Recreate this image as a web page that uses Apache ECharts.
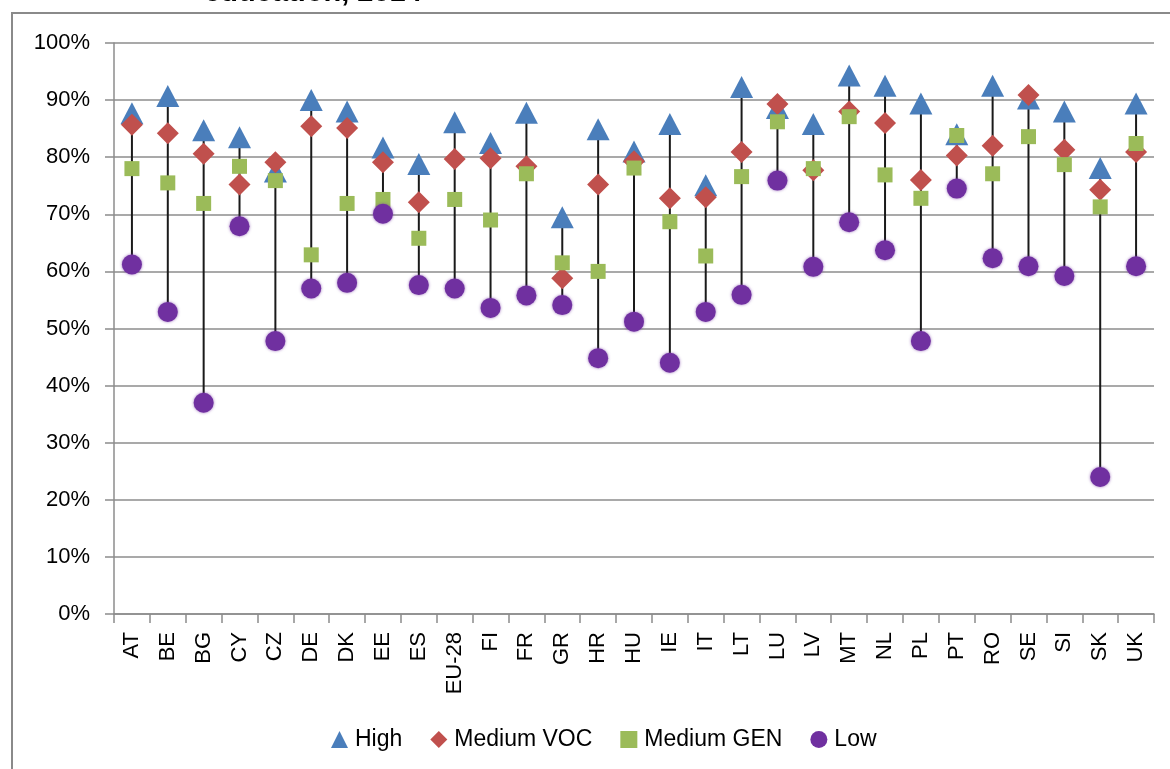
<!DOCTYPE html>
<html>
<head>
<meta charset="utf-8">
<script src="https://cdn.jsdelivr.net/npm/echarts@6/dist/echarts.min.js"></script>
<style>
  html, body { margin: 0; padding: 0; background: #ffffff; }
  #chart { width: 1170px; height: 769px; }
</style>
</head>
<body>
<div id="chart"></div>
<script>
// Employment rate by education level, per country (percent)
var countries = ['AT','BE','BG','CY','CZ','DE','DK','EE','ES','EU-28','FI','FR','GR','HR','HU','IE','IT','LT','LU','LV','MT','NL','PL','PT','RO','SE','SI','SK','UK'];
var high = [87.7,90.7,84.7,83.5,77.5,90.0,88.0,81.7,78.8,86.1,82.5,87.8,69.5,84.9,81.0,85.8,75.1,92.3,88.6,85.8,94.3,92.5,89.4,84.0,92.5,90.3,88.0,78.1,89.4];
var mediumVoc = [85.7,84.2,80.6,75.2,79.1,85.4,85.1,79.1,72.1,79.7,79.8,78.4,58.8,75.2,79.3,72.8,73.0,80.9,89.3,77.7,88.0,86.0,76.0,80.3,82.0,90.9,81.3,74.3,80.9];
var mediumGen = [78.0,75.5,71.9,78.4,75.9,62.9,71.9,72.6,65.8,72.6,69.0,77.1,61.5,60.0,78.1,68.7,62.7,76.6,86.2,78.0,87.1,76.9,72.8,83.8,77.1,83.6,78.7,71.3,82.4];
var low = [61.2,52.9,37.0,67.9,47.8,57.0,58.0,70.1,57.6,57.0,53.6,55.8,54.1,44.8,51.2,44.0,52.9,55.9,75.9,60.8,68.6,63.7,47.8,74.5,62.3,60.9,59.2,24.0,60.9];
var yTicks = { min: 0, max: 100, step: 10 };

// high-low span per country, from the four series
var spans = countries.map(function (c, i) {
  var vals = [high[i], mediumVoc[i], mediumGen[i], low[i]];
  return [i, Math.max.apply(null, vals), Math.min.apply(null, vals)];
});

var FONT = '"Liberation Sans", Arial, sans-serif';
var chart = echarts.init(document.getElementById('chart'), null, { renderer: 'canvas' });

chart.setOption({
  backgroundColor: '#ffffff',
  animation: false,
  textStyle: { fontFamily: FONT },
  graphic: [
    {
      type: 'rect', silent: true, z: -1,
      shape: { x: 12, y: 13, width: 1220, height: 820 },
      style: { fill: null, stroke: '#8a8a8a', lineWidth: 2 }
    },
    {
      type: 'text', silent: true,
      x: 313, y: -7,
      style: {
        text: 'education, 2014',
        font: 'bold 29px "Liberation Sans", Arial, sans-serif',
        fill: '#000000', align: 'center', verticalAlign: 'middle'
      }
    }
  ],
  grid: { left: 114, right: 16, top: 43, bottom: 155, containLabel: false },
  legend: {
    left: 326, top: 723,
    itemWidth: 17, itemHeight: 17, itemGap: 28,
    textStyle: { fontSize: 23, color: '#000', fontFamily: FONT, padding: [0, 0, 0, 2] },
    data: [
      { name: 'High', icon: 'triangle' },
      { name: 'Medium VOC', icon: 'diamond' },
      { name: 'Medium GEN', icon: 'rect' },
      { name: 'Low', icon: 'circle' }
    ]
  },
  xAxis: {
    type: 'category',
    data: countries,
    boundaryGap: true,
    axisLine: { lineStyle: { color: '#8c8c8c', width: 1.5 } },
    axisTick: { show: true, length: 9, alignWithLabel: false, lineStyle: { color: '#8c8c8c', width: 1.5 } },
    axisLabel: { rotate: 90, margin: 18, fontSize: 22, color: '#000', fontFamily: FONT, interval: 0 },
    splitLine: { show: false }
  },
  yAxis: {
    type: 'value',
    min: yTicks.min, max: yTicks.max, interval: yTicks.step,
    axisLine: { show: true, lineStyle: { color: '#8c8c8c', width: 1.5 } },
    axisTick: { show: true, length: 9, lineStyle: { color: '#8c8c8c', width: 1.5 } },
    axisLabel: { formatter: '{value}%', fontSize: 22, color: '#000', margin: 24, fontFamily: FONT },
    splitLine: { show: true, lineStyle: { color: '#8c8c8c', width: 1.5 } }
  },
  series: [
    {
      name: 'span', type: 'custom', z: 1, silent: true,
      data: spans,
      encode: { x: 0, y: [1, 2] },
      renderItem: function (params, api) {
        var top = api.coord([api.value(0), api.value(1)]);
        var bottom = api.coord([api.value(0), api.value(2)]);
        return {
          type: 'line',
          shape: { x1: top[0], y1: top[1], x2: bottom[0], y2: bottom[1] },
          style: { stroke: '#1a1a1a', lineWidth: 2 }
        };
      }
    },
    {
      name: 'High', type: 'scatter', z: 2, data: high,
      symbol: 'triangle', symbolSize: [23, 22],
      itemStyle: { color: '#4a7ebb', opacity: 1 }
    },
    {
      name: 'Medium VOC', type: 'scatter', z: 3, data: mediumVoc,
      symbol: 'diamond', symbolSize: [22, 22],
      itemStyle: { color: '#c0504d', opacity: 1 }
    },
    {
      name: 'Medium GEN', type: 'scatter', z: 4, data: mediumGen,
      symbol: 'rect', symbolSize: [15, 15],
      itemStyle: { color: '#9bbb59', opacity: 1 }
    },
    {
      name: 'Low', type: 'scatter', z: 5, data: low,
      symbol: 'circle', symbolSize: 20,
      itemStyle: { color: '#7030a0', opacity: 1, shadowBlur: 3, shadowColor: 'rgba(112,48,160,0.7)' }
    }
  ]
});
</script>
</body>
</html>
